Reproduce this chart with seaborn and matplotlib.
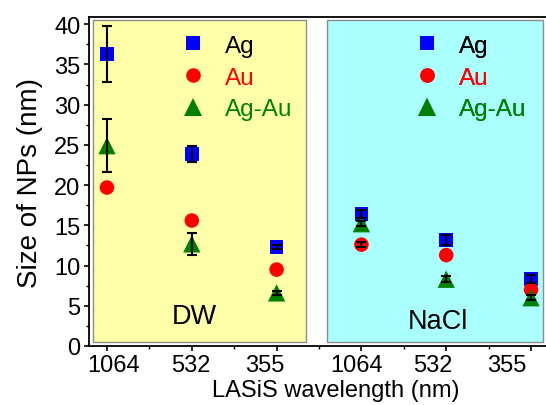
import numpy as np
import pandas as pd
import matplotlib
matplotlib.use("Agg")
import matplotlib.pyplot as plt
from matplotlib.patches import Rectangle
from matplotlib.lines import Line2D
from matplotlib.ticker import MultipleLocator
from matplotlib.transforms import ScaledTranslation
import seaborn as sns

# ---- data ----
wavelengths = ["1064", "532", "355", "1064", "532", "355"]
media = ["DW", "DW", "DW", "NaCl", "NaCl", "NaCl"]
ag = [36.3, 23.9, 12.3, 16.4, 13.2, 8.3]
ag_err = [3.5, 1.0, 0.3, 0.5, 0.6, 0.5]
au = [19.7, 15.6, 9.5, 12.6, 11.3, 7.0]
au_err = [0.0, 0.0, 0.0, 0.3, 0.0, 0.0]
agau = [24.9, 12.7, 6.6, 15.2, 8.3, 6.0]
agau_err = [3.3, 1.4, 0.2, 0.3, 0.4, 0.3]
series_names = ["Ag", "Au", "Ag-Au"]
series_colors = ["#0000FF", "#FF0000", "#008000"]
series_markers = ["s", "o", "^"]
label_colors = ["black", "#FF0000", "#008000"]

sns.set_style("ticks")
plt.rcParams["font.family"] = ["Liberation Sans", "DejaVu Sans"]
plt.rcParams.update({"text.color": "black", "axes.labelcolor": "black",
                     "xtick.color": "black", "ytick.color": "black",
                     "xtick.labelcolor": "black", "ytick.labelcolor": "black"})

pos = np.arange(len(wavelengths))
rows = []
for name, vals, errs in zip(series_names, [ag, au, agau], [ag_err, au_err, agau_err]):
    for p, v, e, m in zip(pos, vals, errs, media):
        rows.append({"pos": p, "size": v, "err": e, "series": name, "medium": m})
df = pd.DataFrame(rows)

W, H = 546, 406
fig = plt.figure(figsize=(W / 100, H / 100), dpi=100)
ax = fig.add_axes([89 / W, 1 - 347 / H, 459 / W, (347 - 18) / H])

# background panels (DW and NaCl)
ax.add_patch(Rectangle((-0.17, 0.45), 2.515, 40.05, facecolor="#FFFFAA",
                       edgecolor="#8C8C8C", lw=1.0, zorder=0))
ax.add_patch(Rectangle((2.6, 0.45), 2.54, 40.05, facecolor="#AAFFFF",
                       edgecolor="#8C8C8C", lw=1.0, zorder=0))

sizes = {"Ag": 95, "Au": 110, "Ag-Au": 155}
sns.scatterplot(data=df, x="pos", y="size", hue="series", style="series",
                palette=dict(zip(series_names, series_colors)),
                markers=dict(zip(series_names, series_markers)),
                size="series", sizes=sizes, linewidth=0, ax=ax, legend=False,
                zorder=3)

for name in series_names:
    sub = df[(df.series == name) & (df.err > 0)]
    ax.errorbar(sub["pos"], sub["size"], yerr=sub["err"], fmt="none",
                ecolor="black", elinewidth=1.5, capsize=3.6, capthick=1.5, zorder=4)

# legends (one per panel)
handles = [Line2D([], [], ls="none", marker=m, color=c, markersize=ms, mew=0)
           for m, c, ms in zip(series_markers, series_colors, [9.6, 10.5, 12.8])]
for x0 in [0.584, 3.343]:
    leg = ax.legend(handles, series_names, loc="upper left",
                    bbox_to_anchor=(x0, 41.4), bbox_transform=ax.transData,
                    frameon=False, fontsize=17.5, labelspacing=0.4,
                    handletextpad=0.72, handlelength=1.2,
                    labelcolor=label_colors)
    ax.add_artist(leg)

ax.text(1.03, 3.7, "DW", fontsize=19.5, ha="center", va="center", zorder=5,
        color="black")
ax.text(3.9, 3.1, "NaCl", fontsize=19.5, ha="center", va="center", zorder=5,
        color="black")

ax.set_xlim(-0.212, 5.2)
ax.set_ylim(0, 40.9)
ax.set_xticks(pos)
ax.set_xticklabels(wavelengths)
ax.xaxis.set_minor_locator(MultipleLocator(0.5))
ax.yaxis.set_major_locator(MultipleLocator(5))
ax.yaxis.set_minor_locator(MultipleLocator(2.5))
ax.tick_params(axis="both", which="major", direction="out", length=3.6, width=1.2,
               labelsize=17, pad=2.5, color="black", labelcolor="black")
ax.tick_params(axis="both", which="minor", direction="out", length=2.4, width=1.0,
               color="black")

# small horizontal nudges of the tick labels, as in the reference
label_shift_px = [7, -1, -12, -5, -13, -24]
for lab, dx in zip(ax.get_xticklabels(), label_shift_px):
    lab.set_transform(lab.get_transform() + ScaledTranslation(dx / 100, 0, fig.dpi_scale_trans))

ax.set_xlabel("LASiS wavelength (nm)", fontsize=17, color="black")
ax.xaxis.set_label_coords((336 - 89) / 459, (347 - 380) / 329)
ax.set_ylabel("Size of NPs (nm)", fontsize=20, labelpad=8, color="black")
for s in ["left", "bottom", "top"]:
    ax.spines[s].set_color("black")
    ax.spines[s].set_linewidth(1.3)
ax.spines["right"].set_visible(False)

fig.savefig("out.png", dpi=100)
